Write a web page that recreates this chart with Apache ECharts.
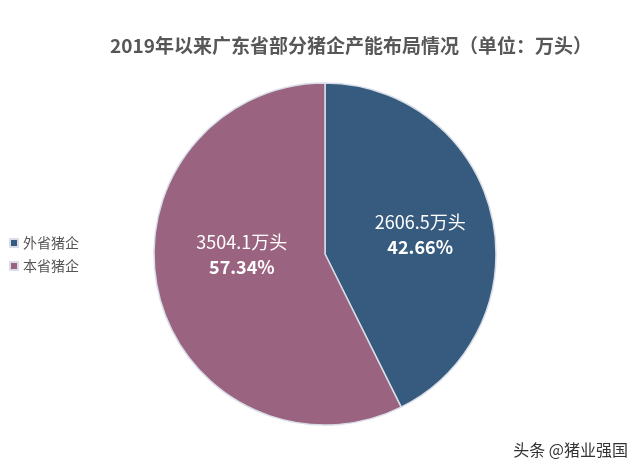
<!DOCTYPE html>
<html><head><meta charset="utf-8">
<script src="https://cdn.jsdelivr.net/npm/echarts@6/dist/echarts.min.js"></script>
<style>html,body{margin:0;padding:0;background:#fff}#c{width:640px;height:466px}</style>
</head><body><div id="c"></div>
<script>
const categories = ['外省猪企', '本省猪企'];
const values = [2606.5, 3504.1];
const percents = ['42.66%', '57.34%'];
const colors = ['#365b7e', '#9a637f'];
const titleText = '2019年以来广东省部分猪企产能布局情况（单位：万头）';

const chart = echarts.init(document.getElementById('c'));
const font = '"Noto Sans CJK SC", "Noto Sans", sans-serif';
const labelOffsets = [[9, 1], [3, -20]];
chart.setOption({
  backgroundColor: '#fff',
  animation: false,
  title: {
    text: titleText, left: 346, top: 31, textAlign: 'center',
    textStyle: { fontFamily: font, fontSize: 19, fontWeight: 'bold', color: '#575757' }
  },
  legend: {
    orient: 'vertical', left: 4, top: 231, itemWidth: 8, itemHeight: 8, itemGap: 9,
    icon: 'rect', data: categories,
    textStyle: { fontFamily: font, fontSize: 14, color: '#555' }
  },
  graphic: [{
    type: 'text', right: 12, bottom: 8,
    style: { text: '头条 @猪业强国', fontFamily: font, fontSize: 16, fill: '#333' }
  }],
  series: [{
    type: 'pie', center: [325, 254], radius: 171, startAngle: 90, clockwise: true,
    data: categories.map((c, i) => ({
      name: c, value: values[i], itemStyle: { color: colors[i] },
      label: { offset: labelOffsets[i] }
    })),
    itemStyle: { borderColor: '#d8dde8', borderWidth: 1.5 },
    label: {
      position: 'inner',
      formatter: p => '{a|' + values[p.dataIndex].toFixed(1) + '万头}\n{b|' + percents[p.dataIndex] + '}',
      rich: {
        a: { fontFamily: font, fontSize: 18, color: '#fff', lineHeight: 25 },
        b: { fontFamily: font, fontSize: 18, color: '#fff', fontWeight: 'bold', lineHeight: 25 }
      }
    },
    labelLine: { show: false }
  }]
});
</script></body></html>
